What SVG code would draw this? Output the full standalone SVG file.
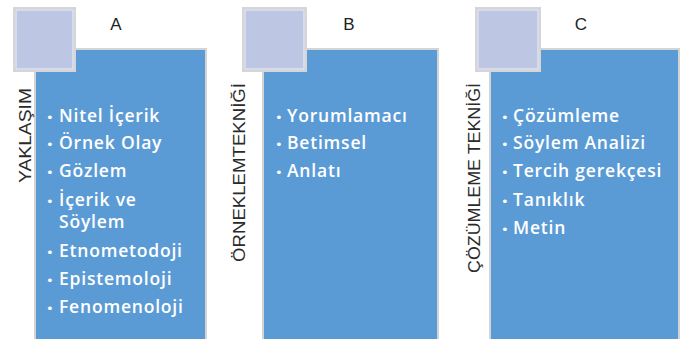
<svg xmlns="http://www.w3.org/2000/svg" width="685" height="339" viewBox="0 0 685 339">
<style>
.panel{fill:#5B9BD5;stroke:#d4d4d4;stroke-width:2}
.sq{fill:#BDC7E3;stroke:#d6d6d6;stroke-width:2}
.sqin{fill:none;stroke:#eef0f8;stroke-width:1}
.hdr{font-family:"Liberation Sans",Arial,sans-serif;font-size:17px;fill:#222;text-anchor:middle}
.vt{font-family:"Liberation Sans",Arial,sans-serif;font-size:16px;fill:#2a2a2a;text-anchor:middle}
.item{font-family:"Open Sans","DejaVu Sans",sans-serif;font-weight:600;font-size:17.5px;letter-spacing:0.8px;fill:#ffffff}
.bul{font-family:"DejaVu Sans",sans-serif;font-size:13px;fill:#ffffff}
</style>
<rect width="685" height="339" fill="#ffffff"/>
<g id="connectors"></g>
<g id="nodeA">
<rect class="panel" x="35" y="49" width="171" height="300"/>
<rect class="sq" x="14" y="8" width="61" height="63"/>
<rect class="sqin" x="16" y="10" width="57" height="59"/>
<text class="hdr" x="116" y="30">A</text>
<text class="vt" transform="translate(31,135.5) rotate(-90)" textLength="95" lengthAdjust="spacingAndGlyphs">YAKLAŞIM</text>
<g>
<text class="bul" x="46" y="122">•</text><text class="item" x="59" y="122">Nitel İçerik</text>
<text class="bul" x="46" y="149">•</text><text class="item" x="59" y="149">Örnek Olay</text>
<text class="bul" x="46" y="177">•</text><text class="item" x="59" y="177">Gözlem</text>
<text class="bul" x="46" y="206">•</text><text class="item" x="59" y="206">İçerik ve</text>
<text class="item" x="59" y="228">Söylem</text>
<text class="bul" x="46" y="257">•</text><text class="item" x="59" y="257">Etnometodoji</text>
<text class="bul" x="46" y="285">•</text><text class="item" x="59" y="285">Epistemoloji</text>
<text class="bul" x="46" y="313">•</text><text class="item" x="59" y="313">Fenomenoloji</text>
</g>
</g>
<g id="nodeB">
<rect class="panel" x="263" y="49" width="175" height="300"/>
<rect class="sq" x="243" y="8" width="63" height="63"/>
<rect class="sqin" x="245" y="10" width="59" height="59"/>
<text class="hdr" x="349" y="30">B</text>
<text class="vt" transform="translate(245,172.5) rotate(-90)" textLength="179" lengthAdjust="spacingAndGlyphs">ÖRNEKLEMTEKNİĞİ</text>
<text class="bul" x="275" y="122">•</text><text class="item" x="287" y="122">Yorumlamacı</text>
<text class="bul" x="275" y="149">•</text><text class="item" x="287" y="149">Betimsel</text>
<text class="bul" x="275" y="177">•</text><text class="item" x="287" y="177">Anlatı</text>
</g>
<g id="nodeC">
<rect class="panel" x="490" y="49" width="189" height="300"/>
<rect class="sq" x="476" y="8" width="64" height="63"/>
<rect class="sqin" x="478" y="10" width="60" height="59"/>
<text class="hdr" x="581" y="30">C</text>
<text class="vt" transform="translate(480,178) rotate(-90)" textLength="190" lengthAdjust="spacingAndGlyphs">ÇÖZÜMLEME TEKNİĞİ</text>
<text class="bul" x="501" y="122">•</text><text class="item" x="513" y="122">Çözümleme</text>
<text class="bul" x="501" y="149">•</text><text class="item" x="513" y="149">Söylem Analizi</text>
<text class="bul" x="501" y="177">•</text><text class="item" x="513" y="177">Tercih gerekçesi</text>
<text class="bul" x="501" y="206">•</text><text class="item" x="513" y="206">Tanıklık</text>
<text class="bul" x="501" y="234">•</text><text class="item" x="513" y="234">Metin</text>
</g>
</svg>
